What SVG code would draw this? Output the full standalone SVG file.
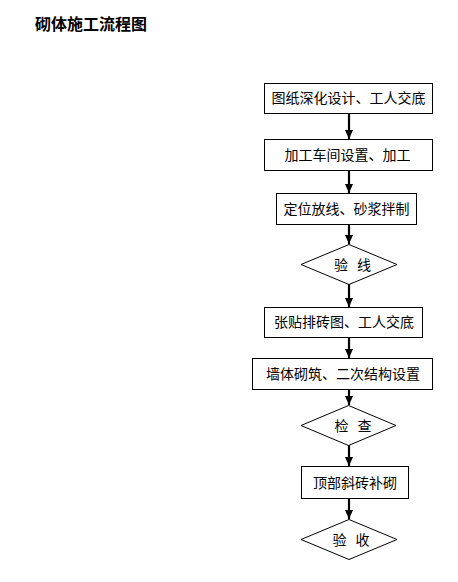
<svg xmlns="http://www.w3.org/2000/svg" width="458" height="582" viewBox="0 0 458 582">
<style>
.box{fill:#fff;stroke:#000;stroke-width:1}
.t{font-family:"Noto Sans CJK SC","Liberation Sans",sans-serif;font-size:14px;fill:#000;text-anchor:middle}
.d{word-spacing:6px}
.title{font-family:"Noto Sans CJK SC","Liberation Sans",sans-serif;font-size:16px;font-weight:bold;fill:#000}
.c{stroke:#000;stroke-width:2.2;fill:none}
</style>
<defs>
<marker id="a" markerUnits="userSpaceOnUse" markerWidth="9" markerHeight="8" refX="9" refY="4" orient="auto" viewBox="0 0 9 8">
<path d="M0,0 L9,4 L0,8 Z" fill="#000"/>
</marker>
</defs>
<rect width="458" height="582" fill="#fff"/>
<text class="title" x="35" y="30">砌体施工流程图</text>
<g id="connectors">
<line class="c" x1="349" y1="113" x2="349" y2="139" marker-end="url(#a)"/>
<line class="c" x1="349" y1="170" x2="349" y2="193" marker-end="url(#a)"/>
<line class="c" x1="349" y1="224" x2="349" y2="244" marker-end="url(#a)"/>
<line class="c" x1="349" y1="284" x2="349" y2="307" marker-end="url(#a)"/>
<line class="c" x1="349" y1="337" x2="349" y2="358" marker-end="url(#a)"/>
<line class="c" x1="349" y1="390" x2="349" y2="405" marker-end="url(#a)"/>
<line class="c" x1="349" y1="445" x2="349" y2="466" marker-end="url(#a)"/>
<line class="c" x1="349" y1="498" x2="349" y2="519" marker-end="url(#a)"/>
</g>
<g id="n1"><rect class="box" x="264.5" y="83.5" width="168" height="30"/><text class="t" x="348.5" y="103">图纸深化设计、工人交底</text></g>
<g id="n2"><rect class="box" x="264.5" y="139.5" width="168" height="31"/><text class="t" x="347.5" y="160">加工车间设置、加工</text></g>
<g id="n3"><rect class="box" x="276.5" y="193.5" width="140" height="31"/><text class="t" x="346.5" y="214">定位放线、砂浆拌制</text></g>
<g id="n4"><polygon class="box" points="349,244.5 397,264.5 349,284.5 301,264.5"/><text class="t d" x="352.5" y="269.5">验 线</text></g>
<g id="n5"><rect class="box" x="264.5" y="307.5" width="158" height="30"/><text class="t" x="344" y="327">张贴排砖图、工人交底</text></g>
<g id="n6"><rect class="box" x="252.5" y="358.5" width="180" height="31"/><text class="t" x="343" y="379">墙体砌筑、二次结构设置</text></g>
<g id="n7"><polygon class="box" points="348.5,405.5 396,425.5 348.5,445.5 301,425.5"/><text class="t d" x="353" y="430.5">检 查</text></g>
<g id="n8"><rect class="box" x="301.5" y="466.5" width="107" height="32"/><text class="t" x="355" y="487.5">顶部斜砖补砌</text></g>
<g id="n9"><polygon class="box" points="349,519.5 397,539.5 349,559.5 301,539.5"/><text class="t d" x="351" y="544.5">验 收</text></g>
</svg>
